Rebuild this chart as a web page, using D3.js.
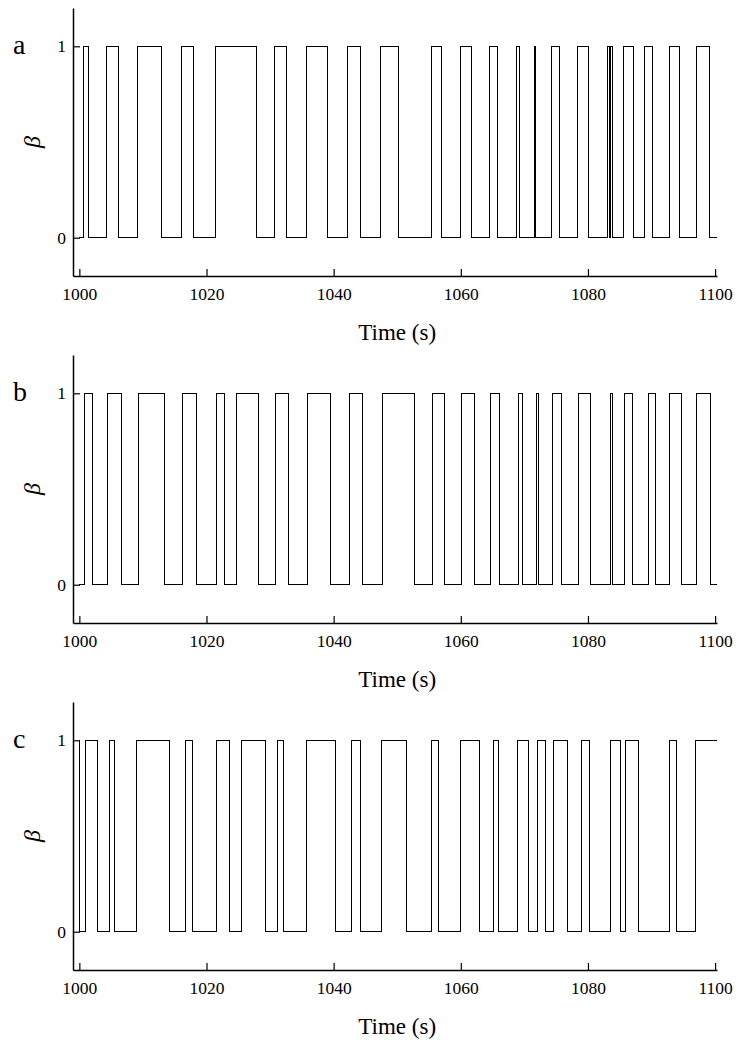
<!DOCTYPE html>
<html>
<head>
<meta charset="utf-8">
<script src="https://cdn.jsdelivr.net/npm/d3@7"></script>
<style>
  body { margin: 0; background: #fff; }
  text { font-family: "Liberation Serif", "Times New Roman", serif; fill: #000; }
</style>
</head>
<body>
<svg id="chart" width="742" height="1044"></svg>
<script>
// Panel labels and axis ticks
const panelLetters = ["a", "b", "c"];
const xTicks = [1000, 1020, 1040, 1060, 1080, 1100];
const yTicks = [0, 1];
const xLabel = "Time (s)";
const yLabel = "β";

// Time window of each trace (s)
const startTime = 1000;
const endTime = 1100.3;

// Value of β at the start of each trace
const initialStates = [0, 0, 1];

// Switching instants (s): β toggles between 0 and 1 at each one
const switchesA = [1000.68, 1001.46, 1004.20, 1006.18, 1009.07, 1012.89, 1016.04, 1017.97,
  1021.38, 1027.94, 1030.71, 1032.66, 1035.69, 1039.10, 1042.25, 1044.18, 1047.44, 1050.20,
  1055.35, 1057.03, 1059.91, 1061.75, 1064.51, 1065.83, 1068.82, 1069.18, 1071.59, 1071.75,
  1074.32, 1075.52, 1078.35, 1080.08, 1083.13, 1083.33, 1083.60, 1083.85, 1085.58, 1087.15,
  1088.88, 1090.14, 1092.81, 1094.39, 1097.01, 1099.06];

const switchesB = [1000.79, 1002.00, 1004.36, 1006.60, 1009.23, 1013.41, 1016.30, 1018.35,
  1021.65, 1022.85, 1024.64, 1028.19, 1030.82, 1032.91, 1035.96, 1039.58, 1042.45, 1044.54,
  1047.69, 1052.67, 1055.55, 1057.39, 1060.06, 1062.11, 1064.62, 1066.08, 1069.07, 1069.70,
  1071.86, 1072.28, 1074.42, 1075.90, 1078.51, 1080.46, 1083.60, 1083.91, 1085.74, 1087.06,
  1089.51, 1090.68, 1092.81, 1094.65, 1097.12, 1099.32];

const switchesC = [1000.02, 1000.94, 1002.88, 1004.72, 1005.50, 1008.92, 1014.20, 1016.67,
  1017.72, 1021.65, 1023.63, 1025.47, 1029.25, 1031.24, 1032.12, 1035.69, 1040.36, 1042.77,
  1044.18, 1047.59, 1051.52, 1055.46, 1056.49, 1059.91, 1062.94, 1065.14, 1065.93, 1068.92,
  1070.65, 1072.12, 1073.27, 1074.58, 1076.78, 1078.93, 1080.24, 1083.60, 1085.06, 1085.96,
  1087.94, 1092.77, 1093.98, 1096.96];

const switchLists = [switchesA, switchesB, switchesC];

// Layout
const panelTops = [8, 355, 702];
const panelHeight = 268;
const plotLeft = 73, plotRight = 717;
const serif = '"Liberation Serif", "Times New Roman", serif';

const svg = d3.select("#chart");

const x = d3.scaleLinear().domain([999, 1100.3]).range([plotLeft, plotRight]);

// Build a step trace from an initial state and its switching instants
function stepTrace(initial, switches) {
  const pts = [{ t: startTime, v: initial }];
  let v = initial;
  switches.forEach(t => { v = 1 - v; pts.push({ t, v }); });
  pts.push({ t: endTime, v });
  return pts;
}

panelLetters.forEach((letter, i) => {
  const top = panelTops[i];
  const bottom = top + panelHeight;
  const y = d3.scaleLinear().domain([-0.2, 1.2]).range([bottom, top]);
  const g = svg.append("g");

  // Trace
  const line = d3.line()
    .x(d => x(d.t))
    .y(d => y(d.v))
    .curve(d3.curveStepAfter);
  g.append("path")
    .datum(stepTrace(initialStates[i], switchLists[i]))
    .attr("d", line)
    .attr("fill", "none")
    .attr("stroke", "#000")
    .attr("stroke-width", 1)
    .attr("shape-rendering", "crispEdges");

  // Bottom axis with inward ticks
  const xAxis = g.append("g")
    .attr("transform", `translate(0,${bottom})`)
    .call(d3.axisBottom(x).tickValues(xTicks).tickFormat(d3.format("d"))
      .tickSizeInner(-7).tickSizeOuter(0).tickPadding(12));
  xAxis.attr("font-family", serif).attr("font-size", 17.5);
  xAxis.select(".domain").attr("stroke", "#000").attr("stroke-width", 1.5);
  xAxis.selectAll(".tick line").attr("stroke", "#000").attr("stroke-width", 1.2);
  xAxis.selectAll("text").style("font-family", serif).style("font-size", "17.5px");

  // Left axis with inward ticks
  const yAxis = g.append("g")
    .attr("transform", `translate(${plotLeft},0)`)
    .call(d3.axisLeft(y).tickValues(yTicks).tickFormat(d3.format("d"))
      .tickSizeInner(-7).tickSizeOuter(0).tickPadding(7));
  yAxis.attr("font-family", serif).attr("font-size", 17.5);
  yAxis.select(".domain").attr("stroke", "#000").attr("stroke-width", 1.5);
  yAxis.selectAll(".tick line").attr("stroke", "#000").attr("stroke-width", 1.2);
  yAxis.selectAll("text").style("font-family", serif).style("font-size", "17.5px");

  // Axis titles
  g.append("text")
    .attr("x", (x(1000) + x(1100)) / 2)
    .attr("y", bottom + 64)
    .attr("text-anchor", "middle")
    .style("font-size", "23px")
    .text(xLabel);

  g.append("text")
    .attr("transform", `translate(40,${y(0.5)}) rotate(-90)`)
    .attr("text-anchor", "middle")
    .style("font-size", "24px")
    .style("font-style", "italic")
    .text(yLabel);

  // Panel letter
  g.append("text")
    .attr("x", 13)
    .attr("y", y(1) + 8)
    .style("font-size", "28px")
    .text(letter);
});
</script>
</body>
</html>
